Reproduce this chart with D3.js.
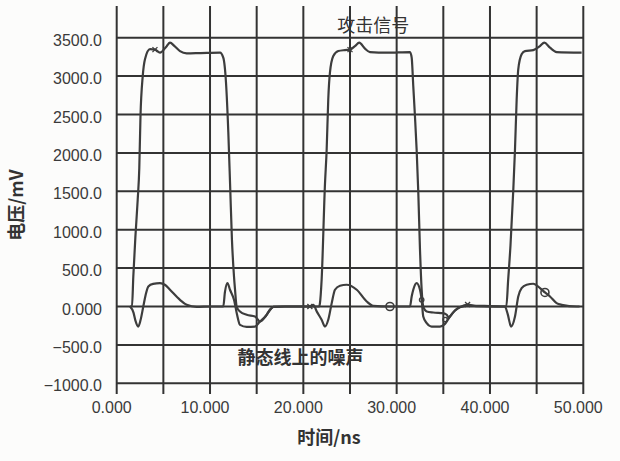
<!DOCTYPE html>
<html>
  <head>
    <meta charset="utf-8" />
    <script src="https://d3js.org/d3.v7.min.js"></script>
  </head>
  <body>
    <svg id="viz" width="620" height="461"></svg>
  </body>
  <script>
    // time (ns) / voltage (mV) pairs
    const attackSignal = [
      [1.43, 0], [1.64, 0], [1.78, 390], [2.0, 900], [2.25, 1390], [2.42, 1800],
      [2.55, 2480], [2.79, 3000], [3.03, 3220], [3.57, 3350], [4.1, 3345], [4.64, 3305],
      [5.36, 3390], [5.71, 3435], [6.2, 3390], [6.78, 3325], [7.5, 3296], [9.0, 3300],
      [11.07, 3305], [11.42, 3240], [11.71, 2920], [11.96, 2270], [12.17, 1520], [12.35, 870],
      [12.57, 390], [12.68, 220], [12.85, 0], [13.21, -65], [13.93, -108], [14.82, -130],
      [15.35, -196], [16.0, -120], [16.43, -43], [16.78, -4], [18.0, 0], [20.0, 0],
      [21.7, 0], [21.78, 44], [21.96, 348], [22.32, 1600], [22.5, 2044], [22.67, 2696],
      [22.85, 3044], [23.21, 3261], [23.74, 3326], [24.46, 3339], [25.0, 3345], [25.53, 3391],
      [25.99, 3435], [26.6, 3357], [27.14, 3313], [29.0, 3305], [31.43, 3313], [31.61, 3240],
      [31.78, 2870], [31.96, 2478], [32.14, 2044], [32.32, 1479], [32.5, 740], [32.68, 218],
      [32.85, 0], [33.22, -65], [33.92, -78], [34.99, -86], [35.36, -108], [35.6, -145],
      [35.71, -130], [36.25, -52], [36.78, -8], [38.0, 10], [40.0, 5], [41.75, 0],
      [41.95, 350], [42.2, 800], [42.5, 1522], [42.68, 2044], [42.86, 2696], [43.03, 3087],
      [43.39, 3283], [43.75, 3326], [44.64, 3339], [45.36, 3391], [45.82, 3435], [46.43, 3370],
      [47.14, 3313], [49.82, 3305]
    ];

    const quietLineNoise = [
      [1.43, 0], [1.8, -80], [2.0, -180], [2.31, -261], [2.55, -180], [2.85, 0],
      [3.1, 150], [3.39, 261], [3.9, 295], [4.64, 305], [5.2, 280], [5.71, 218],
      [6.78, 87], [7.5, 22], [8.57, -5], [10.0, 0], [11.42, 0], [11.6, 190],
      [11.87, 305], [12.14, 218], [12.57, 87], [12.9, -108], [13.21, -239], [13.93, -265],
      [14.82, -261], [15.35, -196], [16.0, -120], [16.43, -43], [16.78, -4], [18.0, 0],
      [20.7, 0], [21.07, 20], [21.46, -70], [21.96, -173], [22.32, -261], [22.67, -173],
      [23.04, 44], [23.39, 218], [23.93, 270], [24.64, 283], [25.72, 218], [26.79, 65],
      [27.49, 9], [29.28, 0], [31.43, 0], [31.61, 130], [31.78, 218], [32.14, 305],
      [32.5, 218], [32.68, 87], [32.85, -130], [33.22, -217], [33.75, -261], [34.64, -261],
      [35.18, -226], [35.71, -130], [36.25, -52], [36.78, -8], [37.6, 25], [38.5, 5],
      [41.6, 0], [41.9, -100], [42.26, -261], [42.68, -130], [43.03, 130], [43.39, 240],
      [43.93, 283], [44.64, 296], [45.36, 240], [45.89, 183], [46.43, 130], [47.14, 44],
      [47.68, 22], [49.29, 0], [49.6, 0]
    ];

    // small probe markers sitting on the traces
    const crossMarks = [[4.1, 3345], [25.0, 3345], [20.7, 0], [37.6, 25]];
    const circleMarks = [[29.28, 0], [45.89, 183]];
    const smallCircleMarks = [[32.68, 87], [35.2, -170]];

    const xTickValues = [0, 10, 20, 30, 40, 50];
    const xGridValues = [0, 5, 10, 15, 20, 25, 30, 35, 40, 45, 50];
    const yTickValues = [-1000, -500, 0, 500, 1000, 1500, 2000, 2500, 3000, 3500];

    function draw() {
      const svg = d3.select("svg#viz");
      const ink = "#333";

      const x = d3.scaleLinear().domain([0, 50]).range([116.7, 583.3]);
      const y = d3.scaleLinear().domain([-1000, 3500]).range([383.3, 37.7]);

      svg.append("rect").attr("width", 620).attr("height", 461).attr("fill", "#fcfcfb");

      // vertical grid lines run past the top and hang below the bottom line as ticks
      svg
        .append("g")
        .selectAll("line")
        .data(xGridValues)
        .join("line")
        .attr("x1", (d) => x(d))
        .attr("x2", (d) => x(d))
        .attr("y1", 6)
        .attr("y2", 394)
        .attr("stroke", ink)
        .attr("stroke-width", 2);

      svg
        .append("g")
        .selectAll("line")
        .data(yTickValues)
        .join("line")
        .attr("x1", x(0))
        .attr("x2", x(50))
        .attr("y1", (d) => y(d))
        .attr("y2", (d) => y(d))
        .attr("stroke", ink)
        .attr("stroke-width", 2);

      const numFont = "'Liberation Sans', Arial, sans-serif";
      const cjkFont = "'Noto Sans CJK SC', sans-serif";

      svg
        .append("g")
        .selectAll("text")
        .data(yTickValues)
        .join("text")
        .attr("x", 102)
        .attr("y", (d) => y(d) + 8)
        .attr("text-anchor", "end")
        .attr("font-family", numFont)
        .attr("font-size", 16)
        .attr("fill", "#3a3a3a")
        .text((d) => (d === 0 ? "0.000" : d3.format(".1f")(d)));

      svg
        .append("g")
        .selectAll("text")
        .data(xTickValues)
        .join("text")
        .attr("x", (d) => x(d) - 5)
        .attr("y", 412.5)
        .attr("text-anchor", "middle")
        .attr("font-family", numFont)
        .attr("font-size", 16)
        .attr("fill", "#3a3a3a")
        .text((d) => d3.format(".3f")(d));

      svg
        .append("text")
        .attr("x", 329)
        .attr("y", 444)
        .attr("text-anchor", "middle")
        .attr("font-family", cjkFont)
        .attr("font-size", 18)
        .attr("font-weight", "bold")
        .attr("fill", ink)
        .text("时间/ns");

      svg
        .append("text")
        .attr("transform", "translate(23,205) rotate(-90)")
        .attr("text-anchor", "middle")
        .attr("font-family", cjkFont)
        .attr("font-size", 18)
        .attr("font-weight", "bold")
        .attr("fill", ink)
        .text("电压/mV");

      const line = d3
        .line()
        .x((d) => x(d[0]))
        .y((d) => y(d[1]))
        .curve(d3.curveMonotoneX);

      svg
        .selectAll("path.trace")
        .data([attackSignal, quietLineNoise])
        .join("path")
        .attr("class", "trace")
        .attr("d", line)
        .attr("fill", "none")
        .attr("stroke", "#3d3d3d")
        .attr("stroke-width", 2.2)
        .attr("stroke-linejoin", "round");

      svg
        .append("g")
        .selectAll("circle")
        .data(circleMarks)
        .join("circle")
        .attr("cx", (d) => x(d[0]))
        .attr("cy", (d) => y(d[1]))
        .attr("r", 4)
        .attr("fill", "none")
        .attr("stroke", "#3d3d3d")
        .attr("stroke-width", 1.6);

      svg
        .append("g")
        .selectAll("circle")
        .data(smallCircleMarks)
        .join("circle")
        .attr("cx", (d) => x(d[0]))
        .attr("cy", (d) => y(d[1]))
        .attr("r", 2.2)
        .attr("fill", "none")
        .attr("stroke", "#3d3d3d")
        .attr("stroke-width", 1.4);

      svg
        .append("g")
        .selectAll("path")
        .data(crossMarks)
        .join("path")
        .attr("d", (d) => {
          const cx = x(d[0]);
          const cy = y(d[1]);
          return `M${cx - 2.5},${cy - 2.5}L${cx + 2.5},${cy + 2.5}M${cx - 2.5},${cy + 2.5}L${cx + 2.5},${cy - 2.5}`;
        })
        .attr("stroke", "#3d3d3d")
        .attr("stroke-width", 1.3);

      svg
        .append("text")
        .attr("x", x(27.5))
        .attr("y", y(3570))
        .attr("text-anchor", "middle")
        .attr("font-family", cjkFont)
        .attr("font-size", 18)
        .attr("fill", ink)
        .text("攻击信号");

      svg
        .append("text")
        .attr("x", x(19.7))
        .attr("y", y(-750))
        .attr("text-anchor", "middle")
        .attr("font-family", cjkFont)
        .attr("font-size", 18)
        .attr("font-weight", "bold")
        .attr("fill", ink)
        .text("静态线上的噪声");
    }

    draw();
  </script>
  <style>
    body {
      margin: 0px;
    }
  </style>
</html>
